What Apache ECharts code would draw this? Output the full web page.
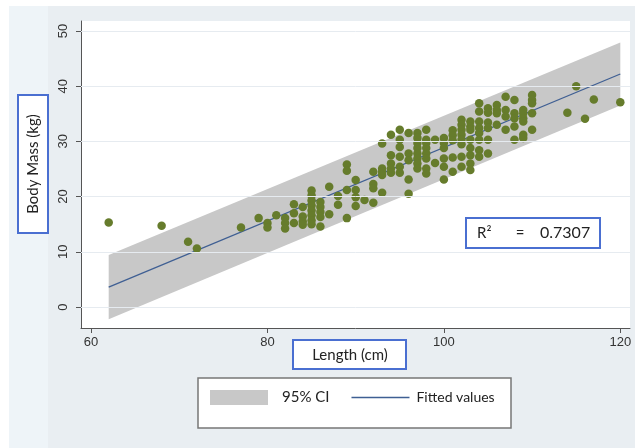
<!DOCTYPE html>
<html><head><meta charset="utf-8">
<script src="https://cdn.jsdelivr.net/npm/echarts@6/dist/echarts.min.js"></script>
<style>html,body{margin:0;padding:0;background:#fff}#c{width:635px;height:448px}</style>
</head><body><div id="c"></div>
<script>
// Observations: length (cm) and body mass (kg)
const lengthCm = [
  62, 68, 71, 72, 77, 79, 80, 80, 81,
  82, 82, 82, 83, 83, 83, 84, 84, 84, 84,
  85, 85, 85, 85, 85, 85, 85, 85,
  86, 86, 86, 86, 86, 87, 87, 88, 88,
  89, 89, 89, 89, 90, 90, 90, 90, 91,
  92, 92, 92, 92, 93, 93, 93, 93, 93,
  94, 94, 94, 94, 94, 95, 95, 95, 95, 95, 95,
  96, 96, 96, 96, 96,
  97, 97, 97, 97, 97, 97, 97, 97,
  98, 98, 98, 98, 98, 98, 98, 98,
  99, 99, 100, 100, 100, 100, 100, 100,
  101, 101, 101, 101, 101,
  102, 102, 102, 102, 102, 102, 102, 102,
  103, 103, 103, 103, 103, 103, 103, 103,
  104, 104, 104, 104, 104, 104, 104, 104,
  105, 105, 105, 105, 105, 105,
  106, 106, 106, 106, 107, 107, 107, 107,
  108, 108, 108, 108, 108,
  109, 109, 109, 109, 109, 109,
  110, 110, 110, 110, 110,
  114, 115, 116, 117, 120
];
const bodyMass = [
  15.3, 14.7, 11.8, 10.6, 14.4, 16.1, 15.2, 14.4, 16.6,
  16.1, 15.2, 14.2, 18.6, 17.0, 15.2, 18.1, 16.4, 15.5, 14.9,
  21.1, 20.2, 19.3, 18.4, 17.5, 16.6, 15.7, 15.0,
  19.0, 18.1, 17.2, 16.3, 14.6, 21.8, 16.8, 20.1, 18.5,
  25.8, 24.7, 21.2, 16.1, 23.0, 21.2, 19.9, 18.3, 19.4,
  24.5, 22.3, 21.5, 18.9, 29.6, 25.1, 24.5, 23.9, 20.7,
  31.2, 27.5, 26.0, 25.1, 24.3, 32.1, 30.3, 29.0, 27.2, 25.4, 24.3,
  31.5, 27.8, 26.6, 23.1, 20.5,
  31.5, 30.6, 29.7, 28.8, 27.8, 26.9, 26.0, 25.1,
  32.1, 30.3, 29.7, 28.8, 27.8, 26.9, 25.1, 24.2,
  30.3, 26.1, 30.6, 29.7, 28.8, 26.9, 25.4, 23.1,
  32.0, 31.1, 30.2, 27.1, 24.5,
  33.9, 33.0, 32.1, 31.2, 30.3, 29.5, 27.2, 25.4,
  33.6, 32.7, 32.1, 30.3, 28.8, 27.5, 26.0, 24.8,
  36.9, 35.4, 33.6, 32.4, 31.5, 30.3, 28.4, 27.2,
  36.0, 35.2, 33.4, 32.4, 30.3, 27.8,
  36.6, 35.7, 35.1, 33.0, 38.1, 35.7, 34.5, 32.1,
  37.5, 35.1, 34.2, 32.7, 30.3,
  35.7, 35.1, 34.2, 33.6, 31.2, 30.6,
  38.4, 37.5, 36.9, 35.1, 32.1,
  35.2, 40.0, 34.1, 37.6, 37.1
];
// Fitted line and 95% CI band
const fitX = [62, 120];
const fitY = [3.6, 42.2];
const ciLower = [-2.2, 36.5];
const ciUpper = [9.4, 47.9];
// Axis ticks
const xTicks = [60, 80, 100, 120];
const yTicks = [0, 10, 20, 30, 40, 50];

const scatterData = lengthCm.map((x, i) => [x, bodyMass[i]]);
const fitData = fitX.map((x, i) => [x, fitY[i]]);
const bandData = fitX.map((x, i) => [x, ciLower[i], ciUpper[i]]);

const chart = echarts.init(document.getElementById('c'), null, {renderer: 'canvas'});
const axisColor = '#555';
const boxBlue = '#4a6fd1';
const titleFont = 'Lato, "Open Sans", sans-serif';

chart.setOption({
  animation: false,
  backgroundColor: '#e9eef2',
  grid: {left: 81, right: 5, top: 21, bottom: 120, show: true, backgroundColor: '#ffffff', borderWidth: 0},
  xAxis: {
    type: 'value', min: 58.86, max: 121.1,
    axisLine: {show: true, onZero: false, lineStyle: {color: axisColor, width: 1}},
    axisTick: {show: true, length: 5, customValues: xTicks, lineStyle: {color: axisColor}},
    axisLabel: {customValues: xTicks, fontSize: 13, color: '#333', margin: 8, fontFamily: 'Liberation Sans, Arial, sans-serif'},
    splitLine: {show: false}
  },
  yAxis: {
    type: 'value', min: -3.8, max: 51.8,
    axisLine: {show: true, onZero: false, lineStyle: {color: axisColor, width: 1}},
    axisTick: {show: true, length: 5, customValues: yTicks, lineStyle: {color: axisColor}},
    axisLabel: {customValues: yTicks, rotate: 90, fontSize: 13, color: '#333', margin: 11, fontFamily: 'Liberation Sans, Arial, sans-serif'},
    splitLine: {show: false}
  },
  legend: {
    left: 205, top: 385, z: 10,
    itemWidth: 58, itemHeight: 15, itemGap: 22,
    selectedMode: false,
    textStyle: {fontFamily: titleFont, color: '#222', fontSize: 14},
    data: [
      {name: '95% CI', icon: 'rect', textStyle: {padding: [0, 0, 0, 9], fontSize: 15}},
      {name: 'Fitted values', icon: 'path://M0,0H58V1.4H0Z', textStyle: {padding: [0, 0, 0, 2], fontSize: 14}}
    ]
  },
  series: [
    {
      name: 'grid', type: 'line', data: [], z: 1, silent: true,
      markLine: {
        silent: true, symbol: 'none', label: {show: false},
        lineStyle: {color: '#e6ebf0', width: 1, type: 'solid'},
        data: yTicks.map(v => ({yAxis: v}))
      }
    },
    {
      name: '95% CI', type: 'custom', z: 2, silent: true,
      itemStyle: {color: '#c8c8c8'},
      encode: {x: 0, y: [1, 2]},
      data: bandData,
      renderItem: function (params, api) {
        if (params.dataIndex !== 0) return null;
        const pts = [];
        bandData.forEach(d => pts.push(api.coord([d[0], d[2]])));
        for (let i = bandData.length - 1; i >= 0; i--) pts.push(api.coord([bandData[i][0], bandData[i][1]]));
        return {type: 'polygon', shape: {points: pts}, style: {fill: '#c8c8c8'}};
      }
    },
    {
      name: 'Fitted values', type: 'line', z: 3, symbol: 'none', silent: true,
      lineStyle: {color: '#3f5f93', width: 1.3},
      itemStyle: {color: '#3f5f93'},
      data: fitData
    },
    {
      name: 'Observations', type: 'scatter', z: 4, symbolSize: 8.5,
      itemStyle: {color: '#667c2c', opacity: 1},
      data: scatterData
    }
  ],
  graphic: [
    {type: 'rect', z: 0, shape: {x: 0, y: 0, width: 635, height: 6}, style: {fill: '#ffffff'}},
    {type: 'rect', z: 0, shape: {x: 0, y: 0, width: 9, height: 448}, style: {fill: '#ffffff'}},
    {type: 'rect', z: 0, shape: {x: 9, y: 6, width: 39, height: 442}, style: {fill: '#eef4f8'}},
    // y-axis title box
    {type: 'rect', z: 50, shape: {x: 18, y: 95, width: 30, height: 138}, style: {fill: '#ffffff', stroke: boxBlue, lineWidth: 2}},
    {type: 'text', z: 51, x: 33, y: 164, rotation: Math.PI / 2,
      style: {text: 'Body Mass (kg)', x: 0, y: 0, textAlign: 'center', textVerticalAlign: 'middle', font: '15px ' + titleFont, fill: '#222'}},
    // x-axis title box
    {type: 'rect', z: 50, shape: {x: 293, y: 340, width: 113, height: 29}, style: {fill: '#ffffff', stroke: boxBlue, lineWidth: 2}},
    {type: 'text', z: 51, x: 350, y: 355,
      style: {text: 'Length (cm)', x: 0, y: 0, textAlign: 'center', textVerticalAlign: 'middle', font: '15px ' + titleFont, fill: '#222'}},
    // R-squared box
    {type: 'rect', z: 50, shape: {x: 466, y: 218, width: 134, height: 30}, style: {fill: '#ffffff', stroke: boxBlue, lineWidth: 2}},
    {type: 'text', z: 51, x: 477, y: 233, style: {text: 'R²', textAlign: 'left', textVerticalAlign: 'middle', font: '15px ' + titleFont, fill: '#222'}},
    {type: 'text', z: 51, x: 520, y: 233, style: {text: '=', textAlign: 'center', textVerticalAlign: 'middle', font: '15px ' + titleFont, fill: '#222'}},
    {type: 'text', z: 51, x: 540, y: 233, style: {text: '0.7307', textAlign: 'left', textVerticalAlign: 'middle', font: '16px ' + titleFont, fill: '#222'}},
    // legend frame
    {type: 'rect', z: 1, shape: {x: 198, y: 378, width: 313, height: 50}, style: {fill: '#ffffff', stroke: '#777', lineWidth: 1.5}}
  ]
});
</script>
</body></html>
